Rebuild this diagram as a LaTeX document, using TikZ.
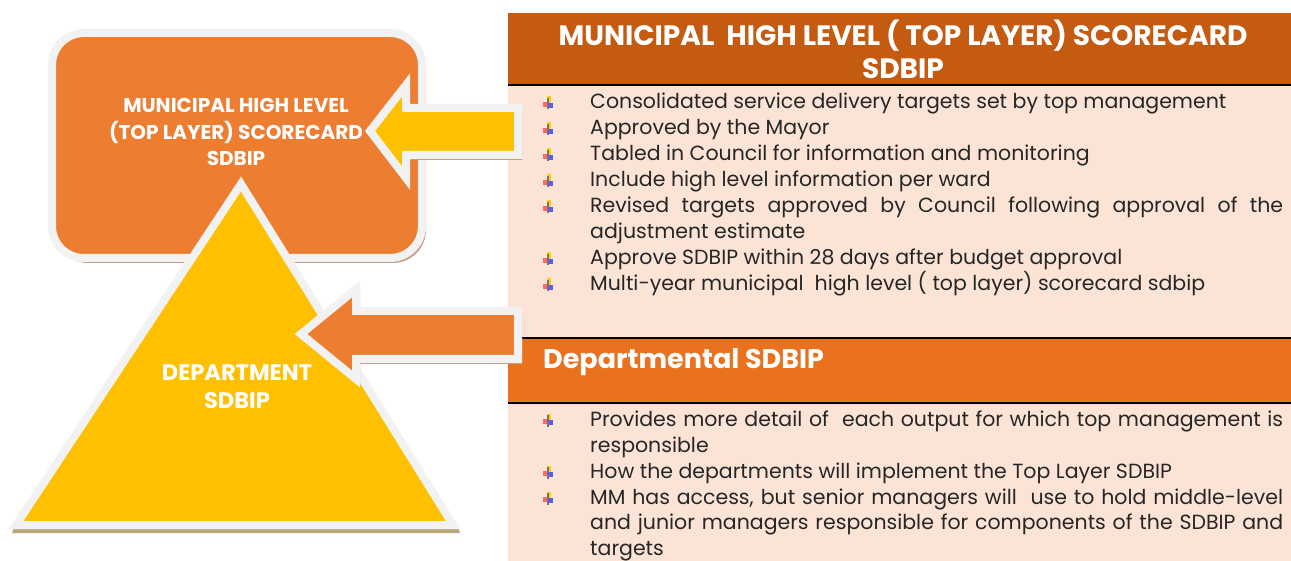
\documentclass[tikz,border=0pt]{standalone}
\usepackage{fontspec}
\setmainfont{Poppins}
\definecolor{boxorange}{HTML}{ED7D31}
\definecolor{headorange}{HTML}{C55A11}
\definecolor{midorange}{HTML}{EA711E}
\definecolor{gold}{HTML}{FFC000}
\definecolor{peach}{HTML}{FBE4D6}
\definecolor{rim}{HTML}{F2F2F2}
\definecolor{boxshade}{HTML}{C6A28C}
\definecolor{goldshade}{HTML}{BCA77A}
\definecolor{inktext}{HTML}{262626}
\tikzset{
  rimmed/.style={draw=rim,line width=8pt,line join=miter},
  shape label/.style={text=white,font=\fontsize{20}{26.5}\selectfont\bfseries,align=center},
  body/.style={anchor=base west,text=inktext,font=\fontsize{20.5}{26}\selectfont,inner sep=0pt},
}
% small four-colour list marker
\newcommand{\mrk}[1]{%
  \begin{scope}[shift={#1},scale=1.3]
    \fill[red!60] (-4,-1) rectangle (0,3);
    \fill[yellow!70!orange] (-1,-5) rectangle (2,0);
    \fill[blue!65] (0,0) rectangle (4,4);
    \fill[black!55] (-0.5,-4) rectangle (0.6,5);
  \end{scope}}
\begin{document}
\begin{tikzpicture}[x=1pt,y=-1pt]
\useasboundingbox (0,0) rectangle (1291,561);
% right hand panel
\fill[peach] (508,85) rectangle (1291,561);
\fill[headorange] (508,13) rectangle (1291,85);
\fill[midorange] (508,338) rectangle (1291,403);
\draw[line width=1.5pt] (508,85) -- (1291,85);
\draw[line width=1.5pt] (508,338) -- (1291,338);
\draw[line width=1.5pt] (508,403) -- (1291,403);
\node[text=white,font=\fontsize{28}{33}\selectfont\bfseries,align=center] (tophead) at (903,49)
  {MUNICIPAL\ \ HIGH LEVEL ( TOP LAYER) SCORECARD\\SDBIP};
\node[text=white,font=\fontsize{27}{30}\selectfont\bfseries,anchor=base west,inner sep=0pt] (dephead) at (543,369) {Departmental SDBIP};
% top layer list
\foreach \y in {109,135,161,187,213,265,291} {\mrk{(548,\y-6)}}
\node[body] (t1) at (590,109) {Consolidated service delivery targets set by top management};
\node[body] (t2) at (590,135) {Approved by the Mayor};
\node[body] (t3) at (590,161) {Tabled in Council for information and monitoring};
\node[body] (t4) at (590,187) {Include high level information per ward};
\node[body] (t5) at (590,213) {\makebox[693pt][s]{Revised targets approved by Council following approval of the}};
\node[body] (t5b) at (590,239) {adjustment estimate};
\node[body] (t6) at (590,265) {Approve SDBIP within 28 days after budget approval};
\node[body] (t7) at (590,291) {Multi-year municipal\ \ high level ( top layer) scorecard sdbip};
% departmental list
\foreach \y in {426,478,504} {\mrk{(548,\y-6)}}
\node[body] (d1) at (590,426) {\makebox[693pt][s]{Provides more detail of\ \ each output for which top management is}};
\node[body] (d1b) at (590,452) {responsible};
\node[body] (d2) at (590,478) {How the departments will implement the Top Layer SDBIP};
\node[body] (d3) at (590,504) {\makebox[693pt][s]{MM has access, but senior managers will\ \ use to hold middle-level}};
\node[body] (d3b) at (590,529) {\makebox[693pt][s]{and junior managers responsible for components of the SDBIP and}};
\node[body] (d3c) at (590,555) {targets};
% rounded scorecard box
\fill[boxshade,rounded corners=33pt] (55,37) rectangle (426,263);
\draw[rimmed,fill=boxorange,rounded corners=32pt] (52,33) rectangle (422,258);
\node[shape label] (toplayer) at (236,132) {MUNICIPAL HIGH LEVEL\\(TOP LAYER) SCORECARD\\SDBIP};
% department triangle
\fill[goldshade] (14,527) -- (458,527) -- (460,533) -- (12,533) -- cycle;
\draw[rimmed,fill=gold] (241,184) -- (453,525) -- (16,525) -- cycle;
\node[shape label,font=\fontsize{22.5}{28}\selectfont\bfseries] (dept) at (237,387) {DEPARTMENT\\SDBIP};
% yellow arrow into the box
\fill[goldshade] (374,135) -- (410,89) -- (410,112) -- (522,112) -- (522,160) -- (410,160) -- (410,183) -- cycle;
\draw[rimmed,fill=gold] (370,131) -- (406,85) -- (406,108) -- (518,108) -- (518,155) -- (406,155) -- (406,178) -- cycle;
% orange arrow into the triangle
\fill[boxshade] (305,338) -- (360,293) -- (360,315) -- (522,315) -- (522,364) -- (360,364) -- (360,384) -- cycle;
\draw[rimmed,fill=boxorange] (301,334) -- (356,289) -- (356,311) -- (518,311) -- (518,359) -- (356,359) -- (356,379) -- cycle;
\end{tikzpicture}
\end{document}
